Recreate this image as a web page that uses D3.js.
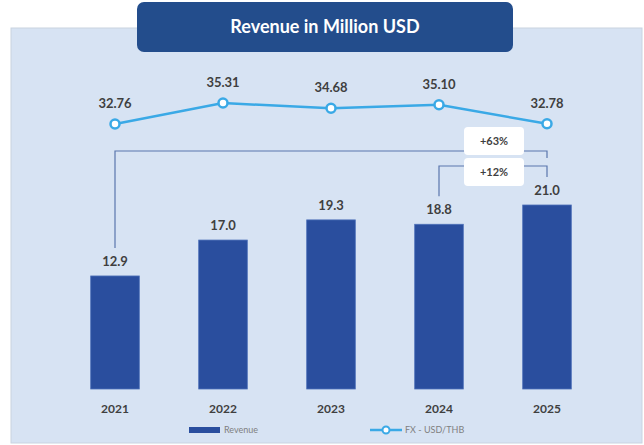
<!DOCTYPE html>
<html>
<head>
<meta charset="utf-8">
<script src="https://cdn.jsdelivr.net/npm/d3@7"></script>
<style>
  body { margin: 0; background: #fff; }
  svg { display: block; font-family: Lato, "Open Sans", sans-serif; }
</style>
</head>
<body>
<svg id="chart" width="644" height="445"></svg>
<script>
var years = ["2021", "2022", "2023", "2024", "2025"];
var revenue = [12.9, 17.0, 19.3, 18.8, 21.0];
var fx = [32.76, 35.31, 34.68, 35.10, 32.78];
var growth = [
  {from: "2021", to: "2025", label: "+63%"},
  {from: "2024", to: "2025", label: "+12%"}
];

var svg = d3.select("#chart");

// panel
svg.append("rect")
  .attr("x", 11).attr("y", 28).attr("width", 631).attr("height", 415)
  .attr("fill", "#d7e3f3").attr("stroke", "#c9d3e0").attr("stroke-width", 1);

// title box
svg.append("rect")
  .attr("x", 137).attr("y", 2).attr("width", 376).attr("height", 50).attr("rx", 7)
  .attr("fill", "#234d8c");
svg.append("text")
  .attr("x", 325).attr("y", 33).attr("text-anchor", "middle")
  .attr("fill", "#fff").attr("font-size", 18).attr("font-weight", "bold")
  .text("Revenue in Million USD");

var x = d3.scaleBand().domain(years).range([61, 601]).paddingInner(0.55).paddingOuter(0.275);
var y = d3.scaleLinear().domain([0, 21]).range([389, 205]);
var yFx = d3.scaleLinear().domain([32, 36]).range([130.2, 97.4]);
var cx = function(d) { return x(d) + x.bandwidth() / 2; };

// bars
svg.selectAll(".bar").data(years).enter().append("rect")
  .attr("class", "bar")
  .attr("x", function(d) { return x(d); })
  .attr("width", x.bandwidth())
  .attr("y", function(d, i) { return y(revenue[i]); })
  .attr("height", function(d, i) { return y(0) - y(revenue[i]); })
  .attr("fill", "#2a4e9e").attr("stroke", "#4d70b8").attr("stroke-width", 0.8);

svg.selectAll(".barlbl").data(years).enter().append("text")
  .attr("x", cx)
  .attr("y", function(d, i) { return y(revenue[i]) - 10; })
  .attr("text-anchor", "middle").attr("font-size", 13).attr("font-weight", "bold")
  .attr("fill", "#3f3f3f")
  .text(function(d, i) { return revenue[i].toFixed(1); });

// x axis labels
svg.selectAll(".yr").data(years).enter().append("text")
  .attr("x", cx).attr("y", 413)
  .attr("text-anchor", "middle").attr("font-size", 12).attr("font-weight", "bold")
  .attr("fill", "#3f3f3f")
  .text(function(d) { return d; });

// growth brackets
var rightX = cx("2025");
var brackets = [
  {g: growth[0], yTop: 151, yRightEnd: 158, box: 127},
  {g: growth[1], yTop: 166, yRightEnd: 177, box: 158}
];
brackets.forEach(function(b) {
  var i = years.indexOf(b.g.from);
  var lx = cx(b.g.from);
  var yLeftEnd = y(revenue[i]) - 28;
  svg.append("path")
    .attr("d", "M" + lx + "," + yLeftEnd + "V" + b.yTop + "H" + rightX + "V" + b.yRightEnd)
    .attr("fill", "none").attr("stroke", "#5a76ad").attr("stroke-width", 1.2);
  svg.append("rect")
    .attr("x", 464).attr("y", b.box).attr("width", 60).attr("height", 28).attr("rx", 4)
    .attr("fill", "#fff");
  svg.append("text")
    .attr("x", 494).attr("y", b.box + 18).attr("text-anchor", "middle")
    .attr("font-size", 11).attr("font-weight", "bold").attr("fill", "#3f3f3f")
    .text(b.g.label);
});

// fx line
var line = d3.line().x(function(d, i) { return cx(years[i]); }).y(function(d) { return yFx(d); });
svg.append("path").datum(fx)
  .attr("d", line).attr("fill", "none").attr("stroke", "#3aa9e6").attr("stroke-width", 2.5);
svg.selectAll(".pt").data(fx).enter().append("circle")
  .attr("cx", function(d, i) { return cx(years[i]); })
  .attr("cy", function(d) { return yFx(d); })
  .attr("r", 4.5).attr("fill", "#fff").attr("stroke", "#3aa9e6").attr("stroke-width", 2.5);
svg.selectAll(".fxlbl").data(fx).enter().append("text")
  .attr("x", function(d, i) { return cx(years[i]); })
  .attr("y", function(d) { return yFx(d) - 16; })
  .attr("text-anchor", "middle").attr("font-size", 13).attr("font-weight", "bold")
  .attr("fill", "#3f3f3f")
  .text(function(d) { return d.toFixed(2); });

// legend
svg.append("rect").attr("x", 189).attr("y", 427).attr("width", 31).attr("height", 6).attr("fill", "#2a4e9e");
svg.append("text").attr("x", 224).attr("y", 433).attr("font-size", 9).attr("fill", "#7f7f7f").text("Revenue");
svg.append("line").attr("x1", 370).attr("x2", 402).attr("y1", 430).attr("y2", 430)
  .attr("stroke", "#3aa9e6").attr("stroke-width", 2.5);
svg.append("circle").attr("cx", 386).attr("cy", 430).attr("r", 3.5)
  .attr("fill", "#fff").attr("stroke", "#3aa9e6").attr("stroke-width", 2);
svg.append("text").attr("x", 405).attr("y", 433).attr("font-size", 9).attr("fill", "#7f7f7f").text("FX - USD/THB");
</script>
</body>
</html>
